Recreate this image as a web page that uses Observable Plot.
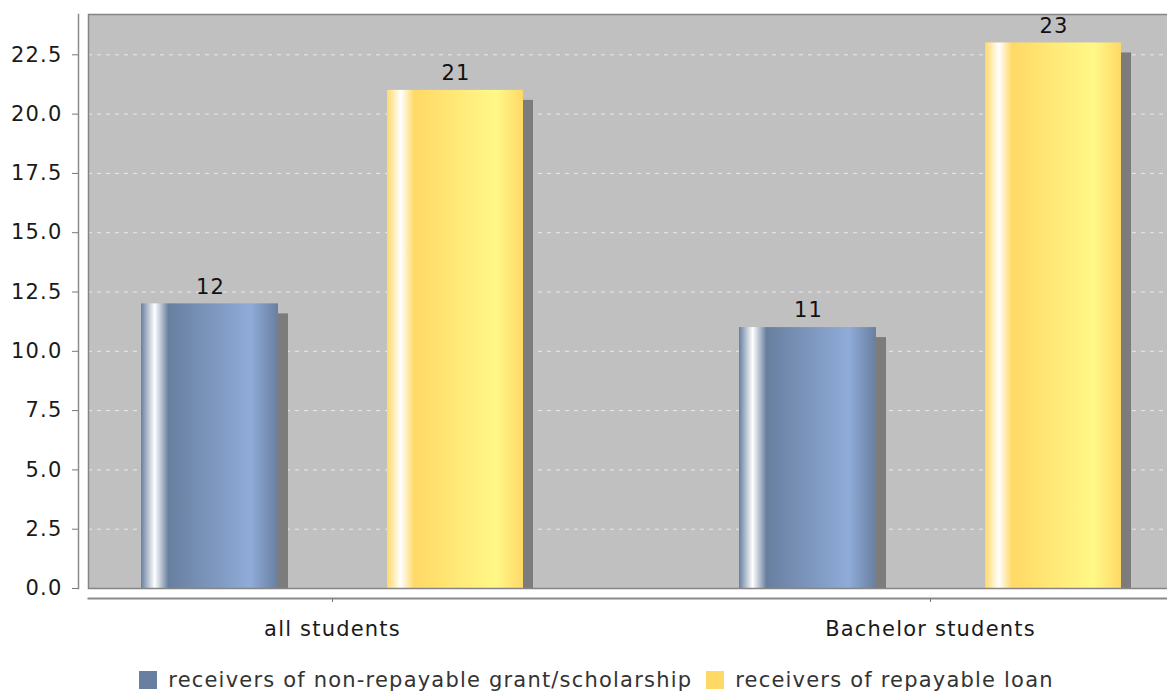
<!DOCTYPE html>
<html><head><meta charset="utf-8">
<script src="https://cdn.jsdelivr.net/npm/d3@7"></script>
<script src="https://cdn.jsdelivr.net/npm/@observablehq/plot@0.6"></script>
<style>
body{margin:0;background:#fff;overflow:hidden;width:1167px;height:691px;font-family:"DejaVu Sans",sans-serif}
#chart svg{display:block;overflow:visible;letter-spacing:1.2px}
#legend{width:1193px;display:flex;justify-content:center;align-items:center;height:30px;padding-top:5px;font-size:21px;color:#333;white-space:nowrap;letter-spacing:1.2px}
.sw{display:inline-block;width:18px;height:18px;margin-right:11px}
.item{display:flex;align-items:center;margin-right:14px}
.item:last-child{margin-right:0}
</style></head><body><div id="chart"></div><div id="legend"></div>
<script>
const categories = ["all students", "Bachelor students"];
const seriesNames = ["receivers of non-repayable grant/scholarship", "receivers of repayable loan"];
const grantValues = [12, 11];
const loanValues = [21, 23];
const yTicks = [0, 2.5, 5, 7.5, 10, 12.5, 15, 17.5, 20, 22.5];
const seriesColors = ["#687f9f", "#ffd966"];
const seriesBright = ["#8fabd8", "#fff888"];

const grant = categories.map((c, i) => ({category: c, value: grantValues[i]}));
const loan = categories.map((c, i) => ({category: c, value: loanValues[i]}));

const font = "DejaVu Sans";
const shadow = "#7c7c7c";

const chart = Plot.plot({
  width: 1167,
  height: 660,
  marginLeft: 88,
  marginRight: -6,
  marginTop: 14,
  marginBottom: 72,
  style: {fontFamily: font, fontSize: "21px", color: "#222", background: "white", overflow: "visible"},
  x: {domain: categories, paddingInner: 0.362, paddingOuter: 0.0867, label: null},
  y: {domain: [0, 24.2], label: null},
  marks: [
    Plot.frame({fill: "#c0c0c0", stroke: "none"}),
    Plot.gridY(yTicks.filter(d => d > 0), {stroke: "#eeeeee", strokeOpacity: 0.9, strokeWidth: 1, strokeDasharray: "4,5"}),
    // shadows
    Plot.barY(grant, {x: "category", y: "value", insetRight: 245, insetTop: 10, dx: 10, fill: shadow}),
    Plot.barY(loan, {x: "category", y: "value", insetLeft: 246, insetTop: 10, dx: 10, fill: shadow}),
    // bars
    Plot.barY(grant, {x: "category", y: "value", insetRight: 245, fill: "url(#gradGrant)"}),
    Plot.barY(loan, {x: "category", y: "value", insetLeft: 246, fill: "url(#gradLoan)"}),
    // value labels
    Plot.text(grant, {x: "category", y: "value", text: d => String(d.value), dx: -122, dy: -17, fill: "#111", fontSize: 21}),
    Plot.text(loan, {x: "category", y: "value", text: d => String(d.value), dx: 123.5, dy: -17, fill: "#111", fontSize: 21}),
    Plot.frame({stroke: "#858585", strokeWidth: 1.5, fill: "none"}),
    Plot.frame({anchor: "left", stroke: "#8a8a8a", strokeWidth: 1.5, dx: -10}),
    Plot.frame({anchor: "bottom", stroke: "#8a8a8a", strokeWidth: 2, dy: 10}),
    Plot.axisY({ticks: yTicks, tickFormat: d3.format(".1f"), tickSize: 6, tickPadding: 10, dx: -10, stroke: "#777", fill: "#1a1a1a", fontSize: 21}),
    Plot.axisX({tickSize: 4, tickPadding: 19, dy: 10, stroke: "#777", fill: "#1a1a1a", fontSize: 21})
  ]
});

// gradient definitions (JFreeChart-like horizontal bar gradient)
const svg = d3.select(chart);
const defs = svg.insert("defs", ":first-child");
[["gradGrant", 0], ["gradLoan", 1]].forEach(([id, k]) => {
  const g = defs.append("linearGradient").attr("id", id).attr("x1", 0).attr("x2", 1).attr("y1", 0).attr("y2", 0);
  const c0 = seriesColors[k], c1 = seriesBright[k];
  [[0, c0], [0.1, "#ffffff"], [0.2, c0], [0.8, c1], [1, c0]].forEach(([o, c]) =>
    g.append("stop").attr("offset", o).attr("stop-color", c));
});
document.getElementById("chart").appendChild(chart);

const legend = d3.select("#legend");
seriesNames.forEach((name, k) => {
  const item = legend.append("div").attr("class", "item");
  item.append("span").attr("class", "sw").style("background", seriesColors[k]);
  item.append("span").text(name);
});
</script>
</body></html>
